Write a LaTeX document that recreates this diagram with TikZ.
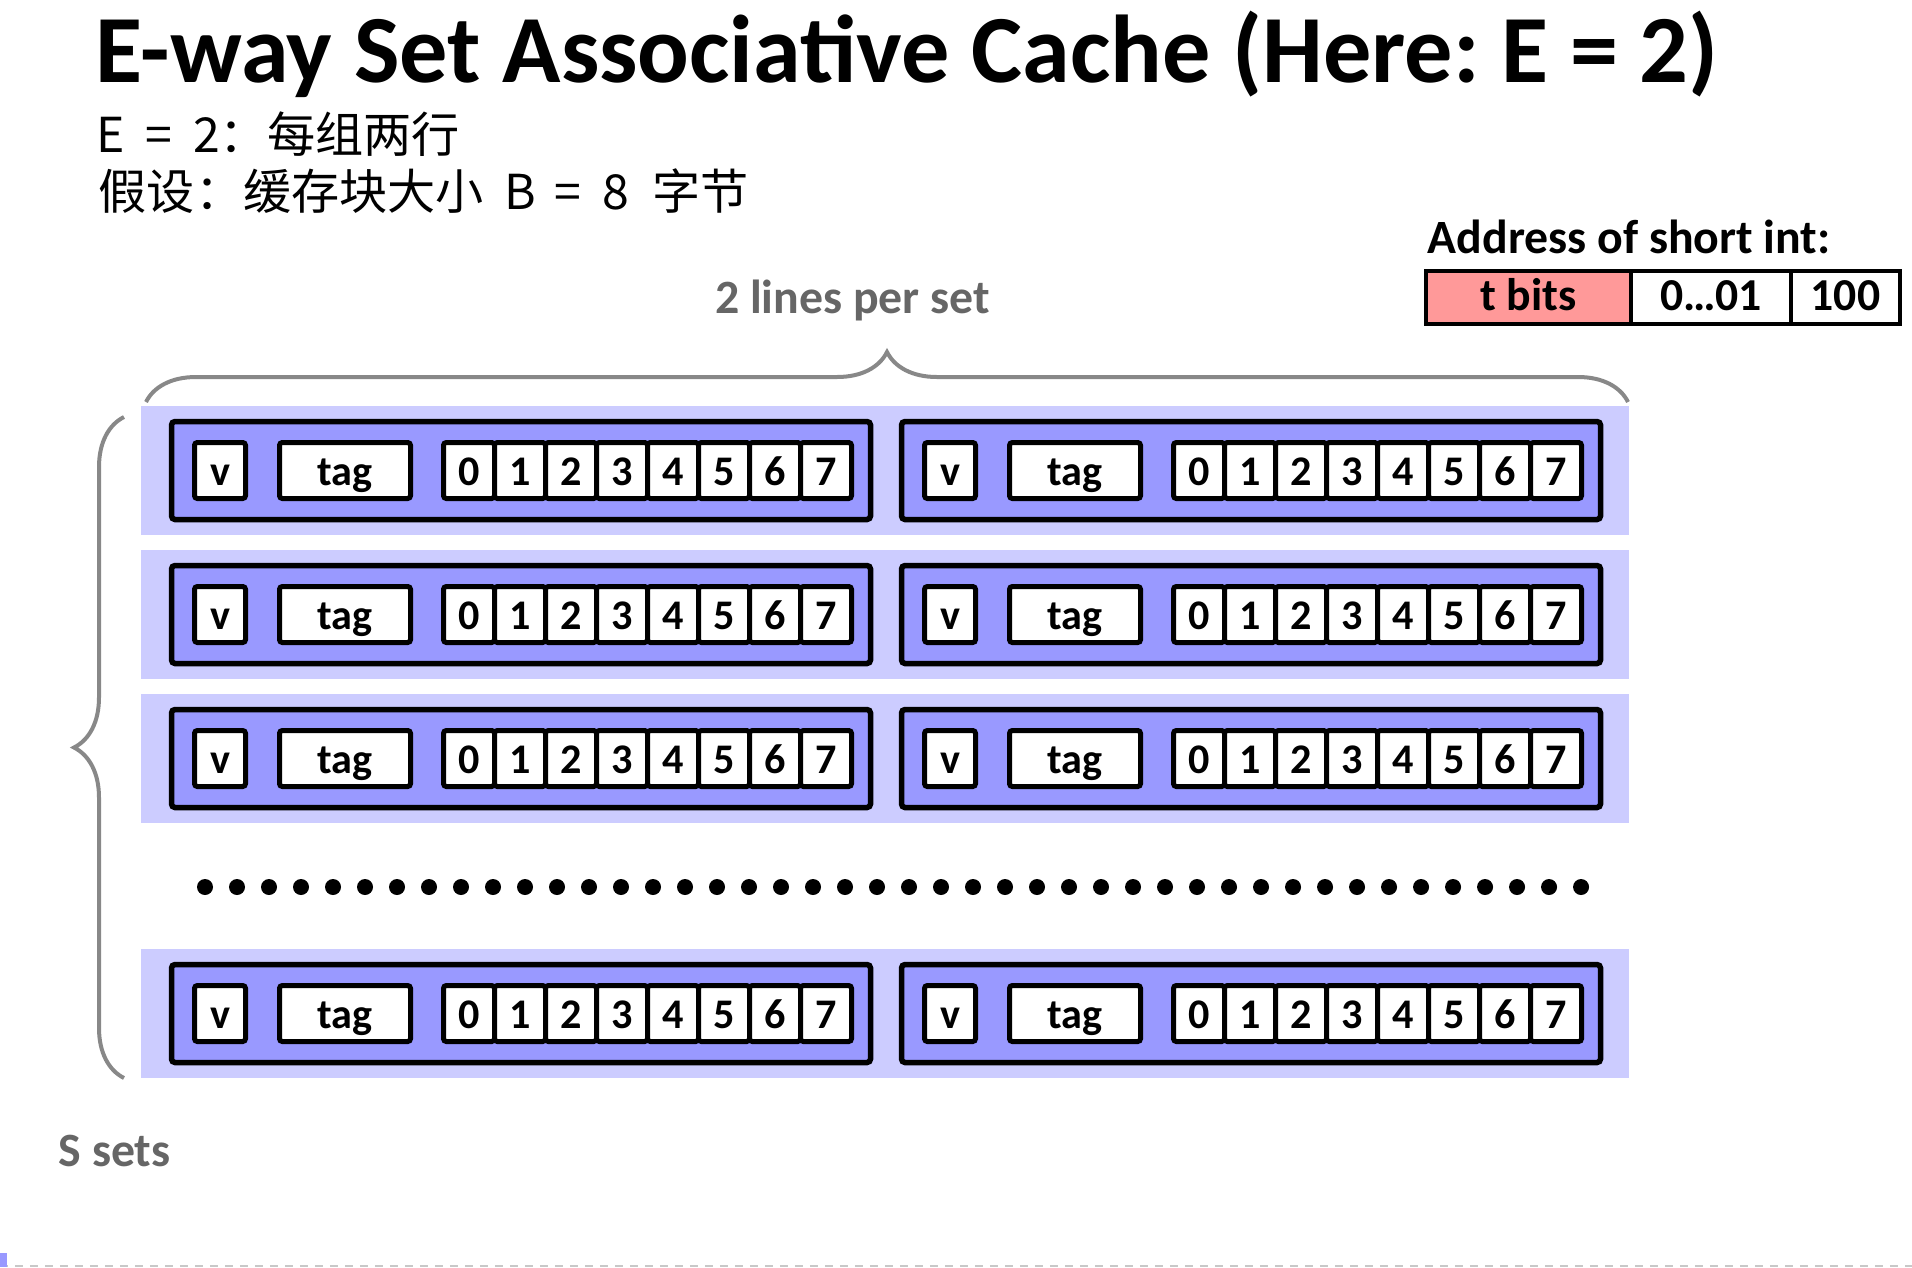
\documentclass[tikz,border=0pt]{standalone}
\usepackage{fontspec}
\setmainfont{Carlito}
\newfontfamily\cjk{Noto Sans CJK SC}
\usetikzlibrary{decorations.pathreplacing}
\frenchspacing

\definecolor{setband}{RGB}{204,204,255}
\definecolor{linefill}{RGB}{153,153,255}
\definecolor{tagpink}{RGB}{255,153,153}
\definecolor{bracegray}{RGB}{136,136,136}
\definecolor{notegray}{RGB}{102,102,102}
\definecolor{rulegray}{RGB}{200,200,200}

% 半角字符占 0.5em
\newcommand\hw[1]{\makebox[0.5em]{#1}}

\tikzset{
  cell/.style={draw=black, line width=0.05cm, fill=white, rounded corners=0.8pt,
    inner sep=0pt, minimum height=0.56cm, text height=0.29cm, text depth=0cm,
    font=\bfseries\fontsize{12}{14}\selectfont},
  linebox/.style={draw=black, line width=0.055cm, fill=linefill, rounded corners=1pt,
    inner sep=0pt, minimum width=6.99cm, minimum height=0.98cm},
  addrcell/.style={draw=black, line width=0.04cm, inner sep=0pt, minimum height=0.53cm,
    text height=0.25cm, text depth=0cm, font=\bfseries\fontsize{13}{15}\selectfont},
  setbrace/.style={decorate, decoration={brace, amplitude=0.5cm}, draw=bracegray,
    line width=0.04cm},
  note/.style={inner sep=0pt, text=notegray, font=\bfseries\fontsize{13.6}{16}\selectfont}
}

\begin{document}
\begin{tikzpicture}[y=-1cm]
  % 画布：1 cm = 100 px，y 轴向下
  \useasboundingbox (0,0) rectangle (19.12,12.67);

  % 1. 标题与说明
  \node[anchor=base west, inner sep=0pt, font=\bfseries\fontsize{27.4}{33}\selectfont]
    (title) at (0.95,0.82) {E-way Set Associative Cache (Here: E = 2)};
  \node[anchor=base west, inner sep=0pt, font=\cjk\fontsize{13.7}{17}\selectfont]
    (eline) at (0.98,1.52) {\hw{E}\hw{ }\hw{=}\hw{ }\hw{2}：每组两行};
  \node[anchor=base west, inner sep=0pt, font=\cjk\fontsize{13.7}{17}\selectfont]
    (bline) at (0.98,2.09) {假设：缓存块大小\hw{ }\hw{B}\hw{ }\hw{=}\hw{ }\hw{8}\hw{ }字节};

  % 2. 地址格式
  \node[anchor=base west, inner sep=0pt, font=\bfseries\fontsize{13.6}{16}\selectfont]
    (addr) at (14.27,2.53) {Address of short int:};
  \node[addrcell, fill=tagpink, minimum width=2.05cm] (tbits) at (15.285,2.975) {t bits};
  \node[addrcell, minimum width=1.60cm] (sbits) at (17.11,2.975) {0…01};
  \node[addrcell, minimum width=1.09cm] (bbits) at (18.455,2.975) {100};

  % 3. 大括号与注释
  \node[note, anchor=base] (perset) at (8.525,3.13) {2 lines per set};
  \draw[setbrace] (1.46,4.02) -- (16.28,4.02);
  \draw[setbrace] (1.24,10.78) -- (1.24,4.17);
  \node[note, anchor=base west] (ssets) at (0.58,11.66) {S sets};

  % 4. 各组：浅色底条 + 两行（v, tag, 8 字节）
  \foreach \r/\top in {1/4.06, 2/5.50, 3/6.94, 4/9.49} {
    \fill[setband] (1.41,\top) rectangle (16.29,\top+1.29);
    \foreach \w/\x in {l/1.69, r/8.99} {
      \node[linebox] (s\r\w) at (\x+3.52,\top+0.645) {};
      \node[cell, minimum width=0.51cm] (s\r\w-v) at (\x+0.51,\top+0.645) {v};
      \node[cell, minimum width=1.31cm] (s\r\w-tag) at (\x+1.76,\top+0.645) {tag};
      \foreach \k in {0,...,7}
        \node[cell, minimum width=0.51cm] (s\r\w-\k) at (\x+3.00+0.51*\k,\top+0.645) {\k};
    }
  }

  % 5. 省略号
  \foreach \i in {0,...,43}
    \fill (2.05+0.32*\i,8.87) circle (0.08);

  % 6. 底部虚线
  \draw[rulegray, line width=0.02cm, dash pattern=on 0.08cm off 0.07cm] (0,12.655) -- (19.12,12.655);
  \fill[linefill] (0,12.53) rectangle (0.07,12.67);

\end{tikzpicture}
\end{document}
